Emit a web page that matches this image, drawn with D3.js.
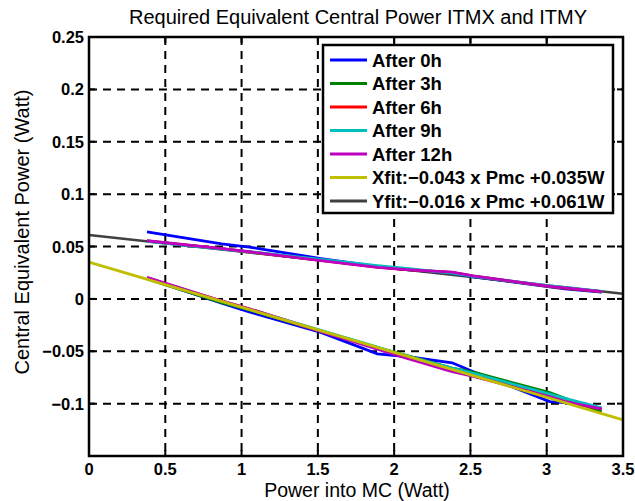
<!DOCTYPE html>
<html>
<head>
<meta charset="utf-8">
<script src="https://cdn.jsdelivr.net/npm/d3@7"></script>
<style>
  body { margin: 0; background: #fff; }
  text { font-family: "Liberation Sans", Arial, sans-serif; }
</style>
</head>
<body>
<svg id="chart" width="635" height="501"></svg>
<script>
// Power into MC (Watt), shared sample points
const powerMC = [0.38, 0.87, 1.05, 1.52, 1.89, 2.08, 2.38, 2.52, 3.02, 3.12, 3.36];

// ITMX (lower group) central equivalent power
const itmx0h  = [0.0196, -0.004, -0.0125, -0.032, -0.0525, -0.055, -0.061, -0.0695, -0.098, -0.099, -0.1045];
const itmx3h  = [0.0190, -0.0035, -0.0105, -0.031, -0.0465, -0.0540, -0.0660, -0.0700, -0.0895, -0.095, -0.1077];
const itmx6h  = [0.0200, -0.0020, -0.0095, -0.031, -0.0470, -0.0560, -0.0680, -0.0735, -0.0930, -0.098, -0.1050];
const itmx9h  = [0.0195, -0.0025, -0.0100, -0.030, -0.0460, -0.0545, -0.0660, -0.0710, -0.0910, -0.095, -0.1040];
const itmx12h = [0.0206, -0.0020, -0.0095, -0.031, -0.0480, -0.0567, -0.0695, -0.0740, -0.0935, -0.098, -0.1050];

// ITMY (upper group)
const itmy0h  = [0.0640, 0.0525, 0.0495, 0.0385, 0.0310, 0.0280, 0.0245, 0.0210, 0.0115, 0.0095, 0.0065];
const itmy3h  = [0.0552, 0.0478, 0.0448, 0.0370, 0.0305, 0.0280, 0.0250, 0.0215, 0.0118, 0.0102, 0.0068];
const itmy6h  = [0.0553, 0.0479, 0.0449, 0.0368, 0.0303, 0.0279, 0.0252, 0.0217, 0.0119, 0.0103, 0.0069];
const itmy9h  = [0.0550, 0.0475, 0.0450, 0.0378, 0.0318, 0.0290, 0.0245, 0.0215, 0.0125, 0.0110, 0.0072];
const itmy12h = [0.0555, 0.0480, 0.0450, 0.0365, 0.0300, 0.0280, 0.0255, 0.0220, 0.0120, 0.0105, 0.0070];

// Linear fits, end points
const fitPower = [0, 3.5];
const xfitVals = [0.035, -0.1155];
const yfitVals = [0.061, 0.005];

const seriesLabels = ['After 0h', 'After 3h', 'After 6h', 'After 9h', 'After 12h',
                      'Xfit:\u22120.043 x Pmc +0.035W', 'Yfit:\u22120.016 x Pmc +0.061W'];
const seriesColors = ['#0000ff', '#008000', '#ff0000', '#00bfbf', '#bf00bf', '#bfbf00', '#404040'];

const xTicks = [0, 0.5, 1, 1.5, 2, 2.5, 3, 3.5];
const xTickLabels = ['0', '0.5', '1', '1.5', '2', '2.5', '3', '3.5'];
const yTicks = [-0.1, -0.05, 0, 0.05, 0.1, 0.15, 0.2, 0.25];
const yTickLabels = ['\u22120.1', '\u22120.05', '0', '0.05', '0.1', '0.15', '0.2', '0.25'];

const svg = d3.select('#chart');
const padL = 89, padR = 623, padT = 37, padB = 456;

const x = d3.scaleLinear().domain([0, 3.5]).range([padL, padR]);
const y = d3.scaleLinear().domain([-0.15, 0.25]).range([padB, padT]);

// Grid (dashed, black)
const grid = svg.append('g');
grid.selectAll('.gx')
    .data(xTicks.filter(d => d > 0 && d < 3.5))
    .enter().append('line')
    .attr('x1', d => x(d)).attr('x2', d => x(d))
    .attr('y1', padT).attr('y2', padB)
    .attr('stroke', '#000').attr('stroke-width', 2)
    .attr('stroke-dasharray', '8,6');
grid.selectAll('.gy')
    .data(yTicks.filter(d => d < 0.25))
    .enter().append('line')
    .attr('x1', padL).attr('x2', padR)
    .attr('y1', d => y(d)).attr('y2', d => y(d))
    .attr('stroke', '#000').attr('stroke-width', 2)
    .attr('stroke-dasharray', '8,6');

const line = d3.line().x(d => x(d[0])).y(d => y(d[1]));
const pairs = (xs, ys) => xs.map((v, i) => [v, ys[i]]);

const plot = svg.append('g');

// Yfit first (sits under the data)
plot.append('path')
    .attr('d', line(pairs(fitPower, yfitVals)))
    .attr('fill', 'none').attr('stroke', seriesColors[6]).attr('stroke-width', 2.5);

const xData = [itmx0h, itmx3h, itmx6h, itmx9h, itmx12h];
const yData = [itmy0h, itmy3h, itmy6h, itmy9h, itmy12h];
xData.forEach((vals, i) => {
    plot.append('path')
        .attr('d', line(pairs(powerMC, vals)))
        .attr('fill', 'none').attr('stroke', seriesColors[i]).attr('stroke-width', 2.8);
    plot.append('path')
        .attr('d', line(pairs(powerMC, yData[i])))
        .attr('fill', 'none').attr('stroke', seriesColors[i]).attr('stroke-width', 2.8);
});

plot.append('path')
    .attr('d', line(pairs(fitPower, xfitVals)))
    .attr('fill', 'none').attr('stroke', seriesColors[5]).attr('stroke-width', 2.8);

// Axes box with inward ticks
const axes = svg.append('g');
axes.append('rect')
    .attr('x', padL).attr('y', padT)
    .attr('width', padR - padL).attr('height', padB - padT)
    .attr('fill', 'none').attr('stroke', '#000').attr('stroke-width', 2.5);

const tickLen = 6;
xTicks.forEach(t => {
    axes.append('line').attr('x1', x(t)).attr('x2', x(t))
        .attr('y1', padB).attr('y2', padB - tickLen)
        .attr('stroke', '#000').attr('stroke-width', 2);
    axes.append('line').attr('x1', x(t)).attr('x2', x(t))
        .attr('y1', padT).attr('y2', padT + tickLen)
        .attr('stroke', '#000').attr('stroke-width', 2);
});
yTicks.forEach(t => {
    axes.append('line').attr('x1', padL).attr('x2', padL + tickLen)
        .attr('y1', y(t)).attr('y2', y(t))
        .attr('stroke', '#000').attr('stroke-width', 2);
    axes.append('line').attr('x1', padR).attr('x2', padR - tickLen)
        .attr('y1', y(t)).attr('y2', y(t))
        .attr('stroke', '#000').attr('stroke-width', 2);
});

// Tick labels
axes.selectAll('.xl')
    .data(xTicks)
    .enter().append('text')
    .attr('x', d => x(d)).attr('y', padB + 19)
    .attr('text-anchor', 'middle')
    .style('font-size', '16.5px').style('font-weight', 'bold')
    .text((d, i) => xTickLabels[i]);
axes.selectAll('.yl')
    .data(yTicks)
    .enter().append('text')
    .attr('x', padL - 5).attr('y', d => y(d) + 6)
    .attr('text-anchor', 'end')
    .style('font-size', '16.5px').style('font-weight', 'bold')
    .text((d, i) => yTickLabels[i]);

// Titles
svg.append('text')
    .attr('x', 358).attr('y', 24)
    .attr('text-anchor', 'middle')
    .style('font-size', '20px')
    .text('Required Equivalent Central Power ITMX and ITMY');
svg.append('text')
    .attr('x', 357).attr('y', 497)
    .attr('text-anchor', 'middle')
    .style('font-size', '19.5px')
    .text('Power into MC (Watt)');
svg.append('text')
    .attr('transform', 'translate(29,232) rotate(-90)')
    .attr('text-anchor', 'middle')
    .style('font-size', '20px')
    .text('Central Equivalent Power (Watt)');

// Legend
const lg = svg.append('g');
lg.append('rect')
    .attr('x', 323).attr('y', 45).attr('width', 290).attr('height', 168)
    .attr('fill', '#fff').attr('stroke', '#000').attr('stroke-width', 2.5);
seriesLabels.forEach((name, i) => {
    const ry = 60 + i * 23.5;
    lg.append('line').attr('x1', 330).attr('x2', 367)
        .attr('y1', ry).attr('y2', ry)
        .attr('stroke', seriesColors[i]).attr('stroke-width', 2.8);
    lg.append('text')
        .attr('x', 372).attr('y', ry + 6.5)
        .style('font-size', '18.5px').style('font-weight', 'bold')
        .text(name);
});
</script>
</body>
</html>
